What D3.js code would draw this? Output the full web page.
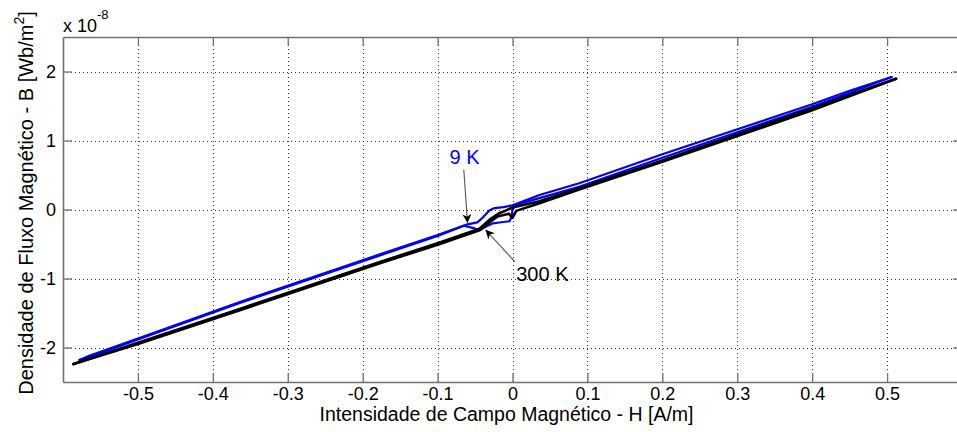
<!DOCTYPE html>
<html>
<head>
<meta charset="utf-8">
<script src="https://cdn.jsdelivr.net/npm/d3@7"></script>
<style>
  html, body { margin: 0; padding: 0; background: #fff; }
  svg { display: block; font-family: "Liberation Sans", Arial, Helvetica, sans-serif; }
</style>
</head>
<body>
<svg id="chart" width="957" height="432"></svg>
<script>
// Hysteresis curves B(H); B in units of 1e-8 Wb/m^2, H in A/m
const xTicks = [-0.5, -0.4, -0.3, -0.2, -0.1, 0, 0.1, 0.2, 0.3, 0.4, 0.5];
const yTicks = [-2, -1, 0, 1, 2];
const xDomain = [-0.6, 0.6];
const yDomain = [-2.5, 2.5];

// 9 K loop: two branches
const loop9K_upper = [
  [0.506, 1.92], [0.45, 1.72], [0.398, 1.517], [0.338, 1.30], [0.2, 0.80],
  [0.089, 0.38], [0.036, 0.21], [0.0, 0.06], [-0.012, 0.035], [-0.024, 0.02],
  [-0.031, -0.015], [-0.035, -0.06], [-0.040, -0.12], [-0.047, -0.186],
  [-0.06, -0.215], [-0.1, -0.37], [-0.177, -0.65], [-0.364, -1.34],
  [-0.5, -1.87], [-0.565, -2.12], [-0.578, -2.18]
];
const loop9K_lower = [
  [0.506, 1.92], [0.45, 1.69], [0.398, 1.48], [0.338, 1.26], [0.2, 0.75],
  [0.089, 0.33], [0.036, 0.165], [0.005, 0.07], [0.0, 0.0], [-0.001, -0.10],
  [-0.004, -0.17], [-0.015, -0.185], [-0.026, -0.20], [-0.036, -0.25],
  [-0.044, -0.30], [-0.052, -0.27], [-0.065, -0.235], [-0.1, -0.385],
  [-0.177, -0.665], [-0.364, -1.355], [-0.5, -1.885], [-0.57, -2.16], [-0.578, -2.18]
];

// 300 K loop: two branches
const loop300K_upper = [
  [0.512, 1.894], [0.398, 1.46], [0.2, 0.71], [0.089, 0.31], [0.036, 0.12],
  [0.0, 0.03], [-0.01, -0.02], [-0.017, -0.05], [-0.031, -0.15], [-0.044, -0.28],
  [-0.1, -0.49], [-0.177, -0.76], [-0.364, -1.44], [-0.5, -1.93], [-0.586, -2.24]
];
const loop300K_lower = [
  [0.512, 1.894], [0.398, 1.43], [0.2, 0.69], [0.089, 0.29], [0.036, 0.09],
  [0.005, -0.02], [0.0, -0.12], [-0.005, -0.06], [-0.02, -0.10], [-0.03, -0.18],
  [-0.044, -0.30], [-0.1, -0.51], [-0.177, -0.78], [-0.364, -1.46], [-0.5, -1.95],
  [-0.586, -2.24]
];

// Annotations: label position, arrow tail, arrow tip (data units)
const annotations = [
  { text: "9 K",   color: "#0000ff", label: [-0.084, 0.66], tail: [-0.065, 0.575], tip: [-0.060, -0.197] },
  { text: "300 K", color: "#000000", label: [0.005, -1.03], tail: [0.003, -0.754], tip: [-0.036, -0.294] }
];

const svg = d3.select("#chart");
const plot = { left: 63, right: 962, top: 37, bottom: 382 };

const x = d3.scaleLinear().domain(xDomain).range([plot.left, plot.right]);
const y = d3.scaleLinear().domain(yDomain).range([plot.bottom, plot.top]);

svg.append("rect").attr("width", 957).attr("height", 432).attr("fill", "#fff");

// dotted grid
const grid = svg.append("g").attr("stroke", "#333").attr("stroke-width", 1)
  .attr("stroke-dasharray", "1,3");
grid.selectAll("line.gx").data(xTicks).join("line")
  .attr("x1", d => Math.round(x(d)) + 0.5).attr("x2", d => Math.round(x(d)) + 0.5)
  .attr("y1", plot.top).attr("y2", plot.bottom);
grid.selectAll("line.gy").data(yTicks).join("line")
  .attr("y1", d => Math.round(y(d)) + 0.5).attr("y2", d => Math.round(y(d)) + 0.5)
  .attr("x1", plot.left).attr("x2", plot.right);

// axes (ticks inward on all four sides)
const axisColor = "#707070";
const tickLen = 9;
const fmt = d => String(d);   // plain hyphen-minus for negative values

const xb = svg.append("g").attr("transform", `translate(0,${plot.bottom})`)
  .call(d3.axisBottom(x).tickValues(xTicks).tickSizeInner(-tickLen).tickSizeOuter(0).tickFormat(fmt));
const xt = svg.append("g").attr("transform", `translate(0,${plot.top})`)
  .call(d3.axisTop(x).tickValues(xTicks).tickSizeInner(-tickLen).tickSizeOuter(0).tickFormat(""));
const yl = svg.append("g").attr("transform", `translate(${plot.left},0)`)
  .call(d3.axisLeft(y).tickValues(yTicks).tickSizeInner(-tickLen).tickSizeOuter(0).tickPadding(7).tickFormat(fmt));
const yr = svg.append("g").attr("transform", `translate(${plot.right},0)`)
  .call(d3.axisRight(y).tickValues(yTicks).tickSizeInner(-tickLen).tickSizeOuter(0).tickFormat(""));

[xb, xt, yl, yr].forEach(g => {
  g.select(".domain").attr("stroke", axisColor).attr("stroke-width", 1.6);
  g.selectAll(".tick line").attr("stroke", axisColor).attr("stroke-width", 1.3);
  g.selectAll(".tick text").attr("fill", "#000").attr("font-size", 18)
    .attr("font-family", "'Liberation Sans', Arial, sans-serif");
});
xb.selectAll(".tick text").attr("dy", null).attr("y", 17.5);

// curves
const line = d3.line().x(d => x(d[0])).y(d => y(d[1]));
const curves = svg.append("g").attr("fill", "none").attr("stroke-linejoin", "round").attr("stroke-linecap", "round");
[loop9K_upper, loop9K_lower].forEach(b =>
  curves.append("path").datum(b).attr("d", line).attr("stroke", "#0000ff").attr("stroke-width", 2.2));
[loop300K_upper, loop300K_lower].forEach(b =>
  curves.append("path").datum(b).attr("d", line).attr("stroke", "#000").attr("stroke-width", 2.6));

// arrows
svg.append("defs").append("marker")
  .attr("id", "head").attr("viewBox", "0 0 10 10").attr("refX", 10).attr("refY", 5)
  .attr("markerUnits", "userSpaceOnUse").attr("markerWidth", 11).attr("markerHeight", 9)
  .attr("orient", "auto")
  .append("path").attr("d", "M0,0 L10,5 L0,10 L3,5 Z").attr("fill", "#000");

const ann = svg.append("g");
annotations.forEach(a => {
  ann.append("line")
    .attr("x1", x(a.tail[0])).attr("y1", y(a.tail[1]))
    .attr("x2", x(a.tip[0])).attr("y2", y(a.tip[1]))
    .attr("stroke", "#555").attr("stroke-width", 1.1)
    .attr("marker-end", "url(#head)");
  ann.append("text")
    .attr("x", x(a.label[0])).attr("y", y(a.label[1]))
    .attr("fill", a.color).attr("font-size", 20)
    .text(a.text);
});

// exponent label
const ex = svg.append("text").attr("x", plot.left).attr("y", 31.5).attr("font-size", 18).attr("fill", "#000");
ex.append("tspan").text("x 10");
ex.append("tspan").attr("font-size", 13).attr("dy", -13).text("-8");

// axis titles
svg.append("text")
  .attr("x", (plot.left + plot.right) / 2 - 6).attr("y", 421)
  .attr("text-anchor", "middle").attr("font-size", 19.5).attr("fill", "#000")
  .text("Intensidade de Campo Magnético - H [A/m]");

const yt = svg.append("text")
  .attr("transform", `translate(33,203) rotate(-90)`)
  .attr("text-anchor", "middle").attr("font-size", 20).attr("fill", "#000");
yt.append("tspan").text("Densidade de Fluxo Magnético - B [Wb/m");
yt.append("tspan").attr("font-size", 14).attr("dy", -9).text("2");
yt.append("tspan").attr("dy", 9).text("]");
</script>
</body>
</html>
